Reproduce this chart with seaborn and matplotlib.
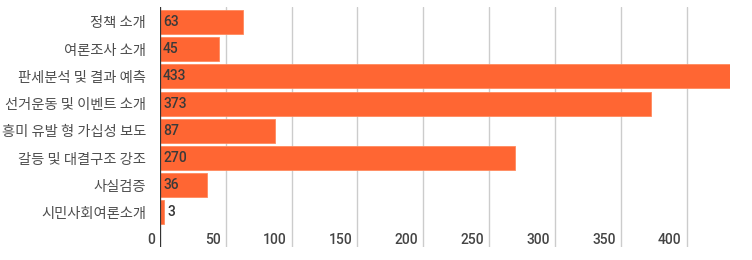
import matplotlib
matplotlib.use("Agg")
import matplotlib.pyplot as plt
import matplotlib.transforms as mtransforms
import seaborn as sns
import pandas as pd

categories = ["정책 소개", "여론조사 소개", "판세분석 및 결과 예측", "선거운동 및 이벤트 소개",
              "흥미 유발 형 가십성 보도", "갈등 및 대결구조 강조", "사실검증", "시민사회여론소개"]
values = [63, 45, 433, 373, 87, 270, 36, 3]
xticks = [0, 50, 100, 150, 200, 250, 300, 350, 400]

df = pd.DataFrame({"category": categories, "value": values})

sns.set_theme(style="white")
plt.rcParams['font.family'] = ['Roboto', 'Noto Sans CJK KR', 'DejaVu Sans']

fig = plt.figure(figsize=(7.52, 2.60), dpi=100)
ax = fig.add_axes([160/752, 1-247/260, (730-160)/752, (247-7)/260])

sns.barplot(data=df, x="value", y="category", orient="h", color="#FF6633",
            saturation=1, width=0.88, ax=ax, edgecolor="#FF8A5E", linewidth=0.6, zorder=2)

ax.set_xlim(0, max(values))
ax.set_ylim(8.27, -0.55)

for t in xticks:
    ax.axvline(t, color="#CCCCCC", lw=1, zorder=1)
ax.axvline(0, color="#333333", lw=1.6, zorder=3)

for s in ax.spines.values():
    s.set_visible(False)

ax.set_xticks([])
ax.set_xlabel("")
ax.set_ylabel("")
ax.tick_params(axis="y", length=0, pad=10)
for lab in ax.get_yticklabels():
    lab.set_fontfamily(['Noto Sans CJK KR', 'DejaVu Sans'])
    lab.set_fontsize(10.3)
    lab.set_color("#4d4d4d")

# tick labels drawn inside plot area near bottom
for t in xticks:
    tr = mtransforms.offset_copy(ax.transData, fig=fig, x=-5, y=0, units="dots")
    ax.text(t, 8.0, str(t), transform=tr, ha="right", va="center",
            fontsize=10, color="#444444", fontweight="medium", zorder=4)

# value labels
for i, v in enumerate(values):
    if v < 10:
        tr = mtransforms.offset_copy(ax.transData, fig=fig, x=4, y=0, units="dots")
        ax.text(v, i, str(v), transform=tr, ha="left", va="center",
                fontsize=10, color="#333333", fontweight="medium", zorder=4)
    else:
        tr = mtransforms.offset_copy(ax.transData, fig=fig, x=3, y=0, units="dots")
        ax.text(0, i, str(v), transform=tr, ha="left", va="center",
                fontsize=10, color="#3a3a3a", fontweight="medium", zorder=4)

fig.savefig("out.png", dpi=100)
